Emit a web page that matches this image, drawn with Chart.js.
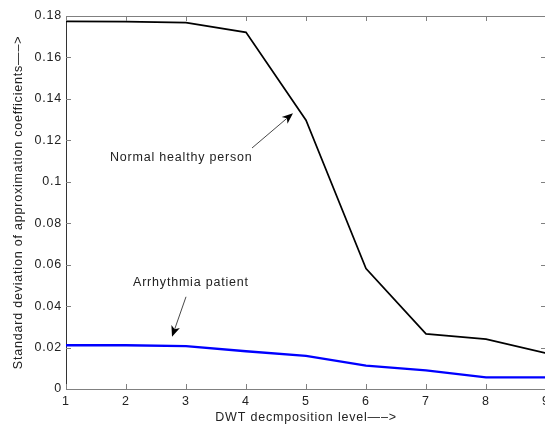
<!DOCTYPE html>
<html><head><meta charset="utf-8">
<script src="https://cdn.jsdelivr.net/npm/chart.js@4/dist/chart.umd.min.js"></script>
<style>html,body{margin:0;padding:0;background:#fff;overflow:hidden}</style>
</head><body>
<canvas id="c" width="548" height="429" style="display:block"></canvas>
<script>
const levels = [1, 2, 3, 4, 5, 6, 7, 8, 9];
const normalStd = [0.1774, 0.1773, 0.1768, 0.1721, 0.1297, 0.0581, 0.0266, 0.0241, 0.0173];
const arrhythmiaStd = [0.0211, 0.0211, 0.0207, 0.0182, 0.0160, 0.0113, 0.0090, 0.0056, 0.0056];
const yTickLabels = ['0', '0.02', '0.04', '0.06', '0.08', '0.1', '0.12', '0.14', '0.16', '0.18'];
const xTickLabels = ['1', '2', '3', '4', '5', '6', '7', '8', '9'];
const xTitle = 'DWT decmposition level\u2014\u2013>';
const yTitle = 'Standard deviation of approximation coefficients\u2014\u2013>';
const annotationLabels = ['Normal healthy person', 'Arrhythmia patient'];
const annotationTextAt = [[1.733, 0.1119], [2.117, 0.0512]];
const annotationArrows = [[4.10, 0.1163, 4.783, 0.1331], [3.0, 0.0445, 2.767, 0.0252]];

const FONT = "'Liberation Sans', Arial, sans-serif";
const FSIZE = 12.5;
const SPACING = '0.8px';

const decor = {
  id: 'decor',
  beforeLayout(chart) { chart.ctx.letterSpacing = SPACING; },
  beforeDraw(chart) { chart.ctx.letterSpacing = SPACING; },
  afterDraw(chart) {
    const {ctx, chartArea: a, scales: {x, y}} = chart;
    ctx.save();
    ctx.strokeStyle = '#808080';
    ctx.lineWidth = 1;
    ctx.beginPath();
    ctx.moveTo(a.left, a.top + 0.5); ctx.lineTo(a.right, a.top + 0.5);
    ctx.moveTo(a.right - 0.5, a.top); ctx.lineTo(a.right - 0.5, a.bottom);
    ctx.stroke();
    ctx.beginPath();
    x.ticks.forEach((t, i) => {
      const px = Math.round(x.getPixelForTick(i)) + 0.5;
      ctx.moveTo(px, a.bottom); ctx.lineTo(px, a.bottom - 5);
      ctx.moveTo(px, a.top); ctx.lineTo(px, a.top + 5);
    });
    y.ticks.forEach((t, i) => {
      const py = Math.round(y.getPixelForTick(i)) + 0.5;
      ctx.moveTo(a.left, py); ctx.lineTo(a.left + 5, py);
      ctx.moveTo(a.right, py); ctx.lineTo(a.right - 5, py);
    });
    ctx.stroke();
    ctx.fillStyle = '#222';
    ctx.font = FSIZE + 'px ' + FONT;
    ctx.letterSpacing = SPACING;
    ctx.textBaseline = 'middle';
    ctx.textAlign = 'left';
    annotationLabels.forEach((txt, i) => {
      const [vx, vy] = annotationTextAt[i];
      ctx.fillText(txt, x.getPixelForValue(vx), y.getPixelForValue(vy));
    });
    annotationArrows.forEach(([x0, y0, x1, y1]) => {
      const p0 = [x.getPixelForValue(x0), y.getPixelForValue(y0)];
      const p1 = [x.getPixelForValue(x1), y.getPixelForValue(y1)];
      const ang = Math.atan2(p1[1] - p0[1], p1[0] - p0[0]);
      const L = 11, W = 4.5;
      const bx = p1[0] - L * Math.cos(ang), by = p1[1] - L * Math.sin(ang);
      ctx.strokeStyle = '#333';
      ctx.lineWidth = 0.9;
      ctx.beginPath();
      ctx.moveTo(p0[0], p0[1]);
      ctx.lineTo(bx + 3 * Math.cos(ang), by + 3 * Math.sin(ang));
      ctx.stroke();
      ctx.fillStyle = '#000';
      ctx.beginPath();
      ctx.moveTo(p1[0], p1[1]);
      ctx.lineTo(bx - W * Math.sin(ang), by + W * Math.cos(ang));
      ctx.lineTo(bx + 3 * Math.cos(ang), by + 3 * Math.sin(ang));
      ctx.lineTo(bx + W * Math.sin(ang), by - W * Math.cos(ang));
      ctx.closePath();
      ctx.fill();
    });
    ctx.restore();
  }
};

new Chart(document.getElementById('c'), {
  type: 'line',
  data: {
    datasets: [
      {
        label: 'Normal healthy person',
        data: levels.map((l, i) => ({x: l, y: normalStd[i]})),
        borderColor: '#000',
        borderWidth: 1.7,
        pointRadius: 0,
        tension: 0,
        fill: false
      },
      {
        label: 'Arrhythmia patient',
        data: levels.map((l, i) => ({x: l, y: arrhythmiaStd[i]})),
        borderColor: '#0000ff',
        borderWidth: 2.4,
        pointRadius: 0,
        tension: 0,
        fill: false
      }
    ]
  },
  options: {
    responsive: false,
    animation: false,
    devicePixelRatio: 1,
    layout: {padding: {top: 16, right: 2, left: 0, bottom: 0}},
    plugins: {legend: {display: false}, tooltip: {enabled: false}},
    scales: {
      x: {
        type: 'linear', min: 1, max: 9,
        grid: {display: false, drawTicks: false},
        border: {display: true, color: '#808080', width: 1},
        ticks: {
          stepSize: 1, padding: 5, maxRotation: 0, autoSkip: false,
          color: '#222', font: {family: FONT, size: FSIZE},
          callback: (v, i) => xTickLabels[i]
        },
        title: {display: true, text: xTitle, color: '#222',
          font: {family: FONT, size: FSIZE}, padding: {top: 0, bottom: 3.5}},
        afterFit(s) { s.height = 40; s.paddingLeft = 0; s.paddingRight = 0; }
      },
      y: {
        type: 'linear', min: 0, max: 0.18,
        grid: {display: false, drawTicks: false},
        border: {display: true, color: '#333', width: 1},
        ticks: {
          stepSize: 0.02, padding: 4,
          color: '#222', font: {family: FONT, size: FSIZE},
          callback: (v, i) => yTickLabels[i]
        },
        title: {display: true, text: yTitle, color: '#222',
          font: {family: FONT, size: FSIZE}, padding: {top: 11, bottom: 0}},
        afterFit(s) { s.width = 66; s.paddingTop = 0; s.paddingBottom = 0; }
      }
    }
  },
  plugins: [decor]
});
</script>
</body></html>
